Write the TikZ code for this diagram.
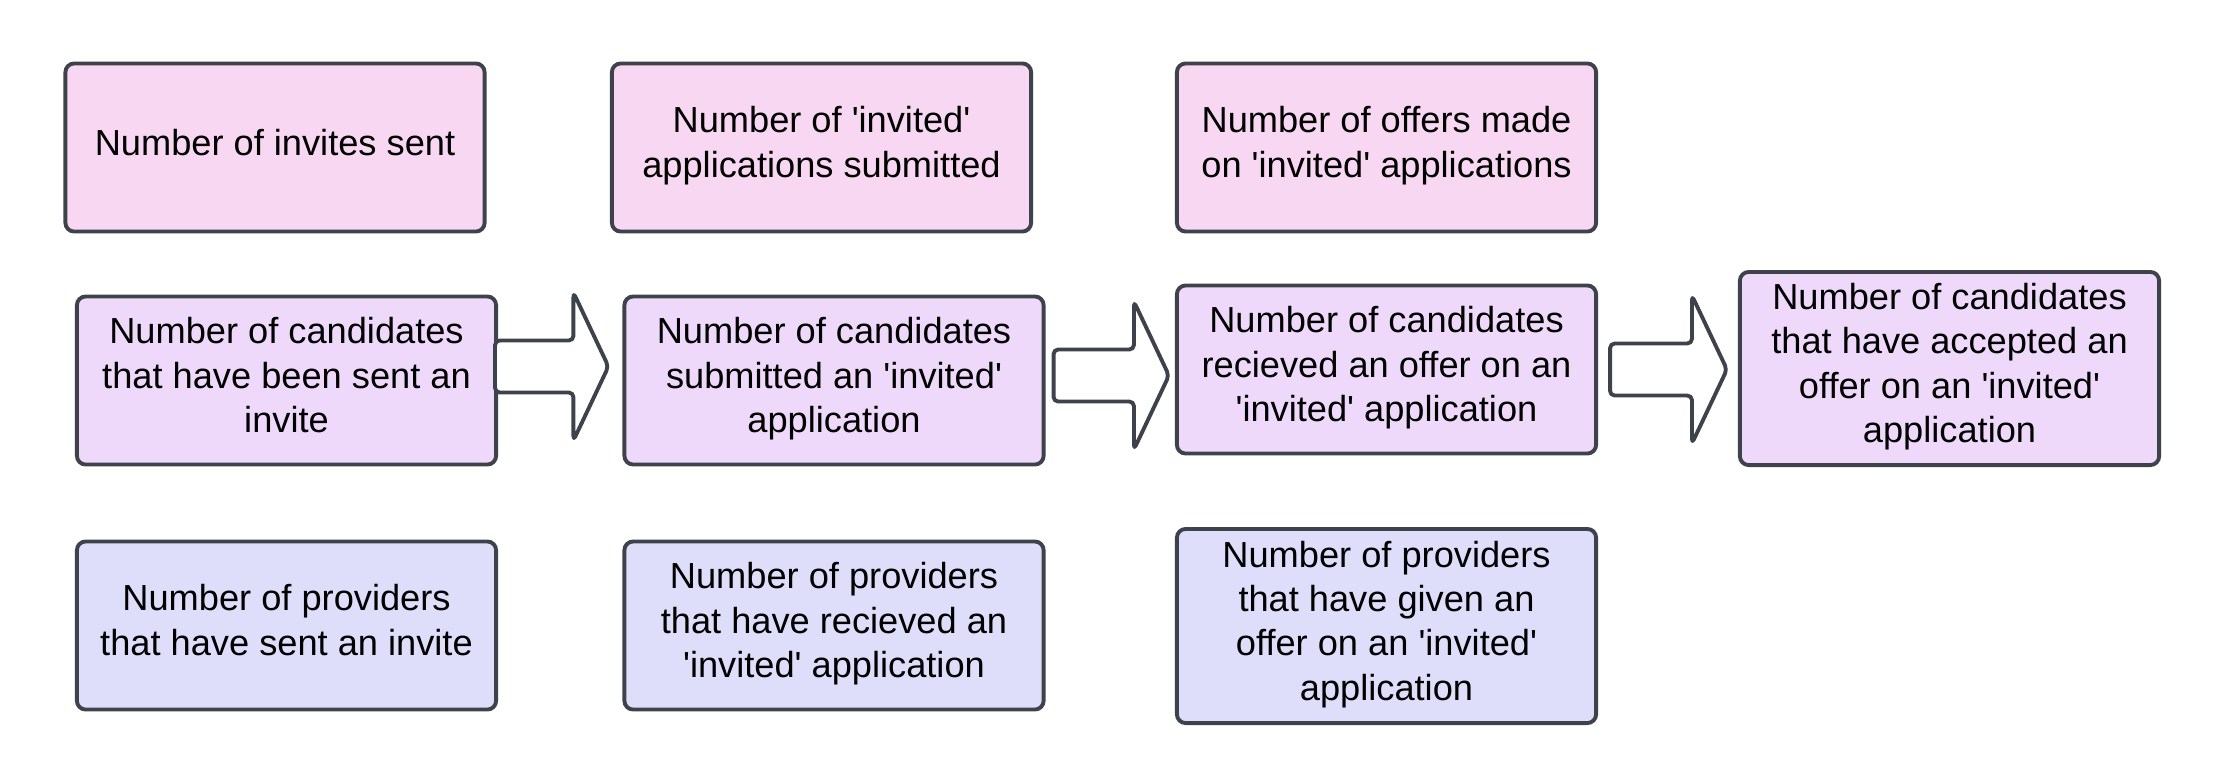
\documentclass[tikz,border=0pt]{standalone}
\usepackage{fontspec}
\setmainfont{Liberation Sans}
\usetikzlibrary{calc}

\definecolor{rimgray}{HTML}{3E434B}
\definecolor{topfill}{HTML}{F8D7F2}
\definecolor{midfill}{HTML}{EFD9FB}
\definecolor{lowfill}{HTML}{DEDEFB}

\newcommand\sq{\textquotesingle}

\tikzset{
  statbox/.style={draw=rimgray, line width=1.1pt, rounded corners=2.5pt,
    minimum width=4.19cm, minimum height=1.68cm, align=center,
    font=\fontsize{10.3}{12.6}\selectfont, inner sep=0pt,
    execute at end node={\rule[-0.11cm]{0pt}{0pt}}},
  invbox/.style={statbox, fill=topfill},
  candbox/.style={statbox, fill=midfill},
  provbox/.style={statbox, fill=lowfill},
  blockarr/.style={draw=rimgray, fill=white, line width=1.1pt, rounded corners=1.3pt, line join=round}
}

% hollow block arrow from #1 to #2 (tip), drawn at the height of #1
\newcommand\blockarrow[2]{%
  \draw[blockarr] let \p1=(#1), \p2=(#2) in
    (\x1,{\y1+0.26cm}) -- ({\x2-0.35cm},{\y1+0.26cm}) -- ({\x2-0.35cm},{\y1+0.74cm})
    -- (\x2,\y1) -- ({\x2-0.35cm},{\y1-0.74cm}) -- ({\x2-0.35cm},{\y1-0.26cm})
    -- (\x1,{\y1-0.26cm}) -- cycle;}

\begin{document}
\begin{tikzpicture}[x=0.01cm, y=-0.01cm]
  \useasboundingbox (0,0) rectangle (2218,766);

  % invites / applications / offers
  \node[invbox] (sent) at (275,147.5) {Number of invites sent};
  \node[invbox] (subm) at (821.5,147.5) {Number of \sq invited\sq\\applications submitted};
  \node[invbox] (offr) at (1386.5,147.5) {Number of offers made\\on \sq invited\sq\ applications};

  % candidates
  \node[candbox] (cinv) at (286.5,380.5) {Number of candidates\\that have been sent an\\invite};
  \node[candbox] (capp) at (834,380.5) {Number of candidates\\submitted an \sq invited\sq\\application};
  \node[candbox] (coff) at (1386.5,369.5) {Number of candidates\\recieved an offer on an\\\sq invited\sq\ application};
  \node[candbox, minimum height=1.93cm] (cacc) at (1949.5,368.5) {Number of candidates\\that have accepted an\\offer on an \sq invited\sq\\application};

  % providers
  \node[provbox] (pinv) at (286.5,625.5) {Number of providers\\that have sent an invite};
  \node[provbox] (papp) at (834,625.5) {Number of providers\\that have recieved an\\\sq invited\sq\ application};
  \node[provbox, minimum height=1.94cm] (poff) at (1386.5,626) {Number of providers\\that have given an\\offer on an \sq invited\sq\\application};

  \blockarrow{$(cinv.east)+(-3,-14)$}{$(capp.west)+(-14,0)$}
  \blockarrow{$(capp.east)+(8,-5)$}{$(coff.west)+(-6,0)$}
  \blockarrow{$(coff.east)+(12,0)$}{$(cacc.west)+(-11,0)$}
\end{tikzpicture}
\end{document}
